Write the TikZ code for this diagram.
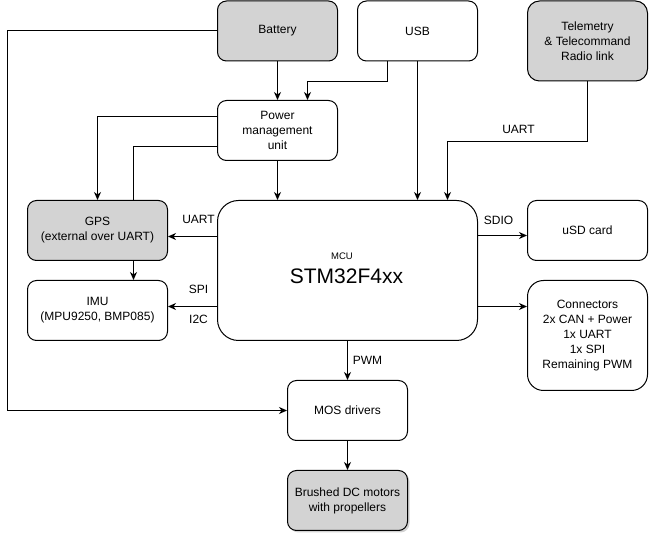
\documentclass[tikz,border=0pt]{standalone}
\usepackage{fontspec}
\setmainfont{Liberation Sans}
\usetikzlibrary{arrows.meta,backgrounds,shadows}
\definecolor{boxgray}{RGB}{211,211,211}
\tikzset{
  blk/.style={draw=black, line width=1pt, rounded corners=9pt, minimum width=120pt, minimum height=60pt, inner sep=0pt, align=center, font=\fontsize{12}{15}\selectfont, fill=white},
  grayblk/.style={blk, fill=boxgray},
  arr/.style={line width=1pt, -{Stealth[length=8pt,width=7pt,inset=2.5pt]}},
  ln/.style={line width=1pt},
  lbl/.style={font=\fontsize{12}{15}\selectfont, inner sep=0pt}
}
\begin{document}
\begin{tikzpicture}[x=1pt,y=-1pt]
\useasboundingbox (-0.5,-0.5) rectangle (648.5,536.5);
\node[grayblk] (bat) at (277,30.5) {Battery};
\node[blk] (usb) at (417,30.5) {USB};
\node[grayblk, minimum height=80pt, rounded corners=12pt] (tel) at (587,40.5) {Telemetry\\\& Telecommand\\Radio link};
\node[blk] (pmu) at (277,130) {Power\\management\\unit};
\node[grayblk, minimum width=140pt] (gps) at (97,230) {GPS\\(external over UART)};
\node[blk, minimum width=140pt] (imu) at (97,310) {IMU\\(MPU9250, BMP085)};
\node[blk, minimum width=260pt, minimum height=140pt, rounded corners=21pt] (mcu) at (347,270) {};
\node[lbl, font=\fontsize{9.5}{11}\selectfont] (mcut) at (341.5,256) {MCU};
\node[lbl, font=\fontsize{21}{24}\selectfont] (stm) at (346,276) {STM32F4xx};
\node[blk] (usd) at (587,230) {uSD card};
\node[blk, minimum height=110pt, rounded corners=16pt] (con) at (587,335) {Connectors\\2x CAN + Power\\1x UART\\1x SPI\\Remaining PWM};
\node[blk] (mos) at (347,410) {MOS drivers};
\node[grayblk, drop shadow={shadow xshift=2pt, shadow yshift=-2pt, opacity=0.35, fill=gray}] (mot) at (347,500) {Brushed DC motors\\with propellers};
\coordinate (bl) at (7,0);
\coordinate (g1) at ([yshift=-6pt]gps.east);
\coordinate (i1) at ([yshift=4pt]imu.east);
\coordinate (s1) at ([yshift=-5pt]usd.west);
\coordinate (c1) at ([yshift=29pt]con.west);
\begin{scope}[on background layer]
\draw[arr] ([yshift=-16pt]pmu.west) -| ([xshift=36pt]imu.north);
\end{scope}
\draw[arr] (bat) -- (pmu);
\draw[arr] ([xshift=-30pt]usb.south) -- ++(0,20) -| ([xshift=30pt]pmu.north);
\draw[arr] (usb) -- (usb |- mcu.north);
\draw[arr] (tel.south) -- ++(0,60) -| ([xshift=100pt]mcu.north);
\draw[arr] (pmu) -- (pmu |- mcu.north);
\draw[arr] ([yshift=14pt]pmu.west) -| (gps.north);
\draw[arr] (mcu.west |- g1) -- (g1);
\draw[arr] (mcu.west |- i1) -- (i1);
\draw[arr] (mcu.east |- s1) -- (s1);
\draw[arr] (mcu.east |- c1) -- (c1);
\draw[arr] (mcu) -- (mos);
\draw[arr] (mos) -- (mot);
\draw[arr] (bat.west) -- (bat.west -| bl) |- (mos.west);
\node[lbl] (l1) at (518,129) {UART};
\node[lbl] (l2) at (198,219) {UART};
\node[lbl] (l3) at (198,289) {SPI};
\node[lbl] (l4) at (198,319) {I2C};
\node[lbl] (l5) at (498,220) {SDIO};
\node[lbl] (l6) at (367,360) {PWM};
\end{tikzpicture}
\end{document}
